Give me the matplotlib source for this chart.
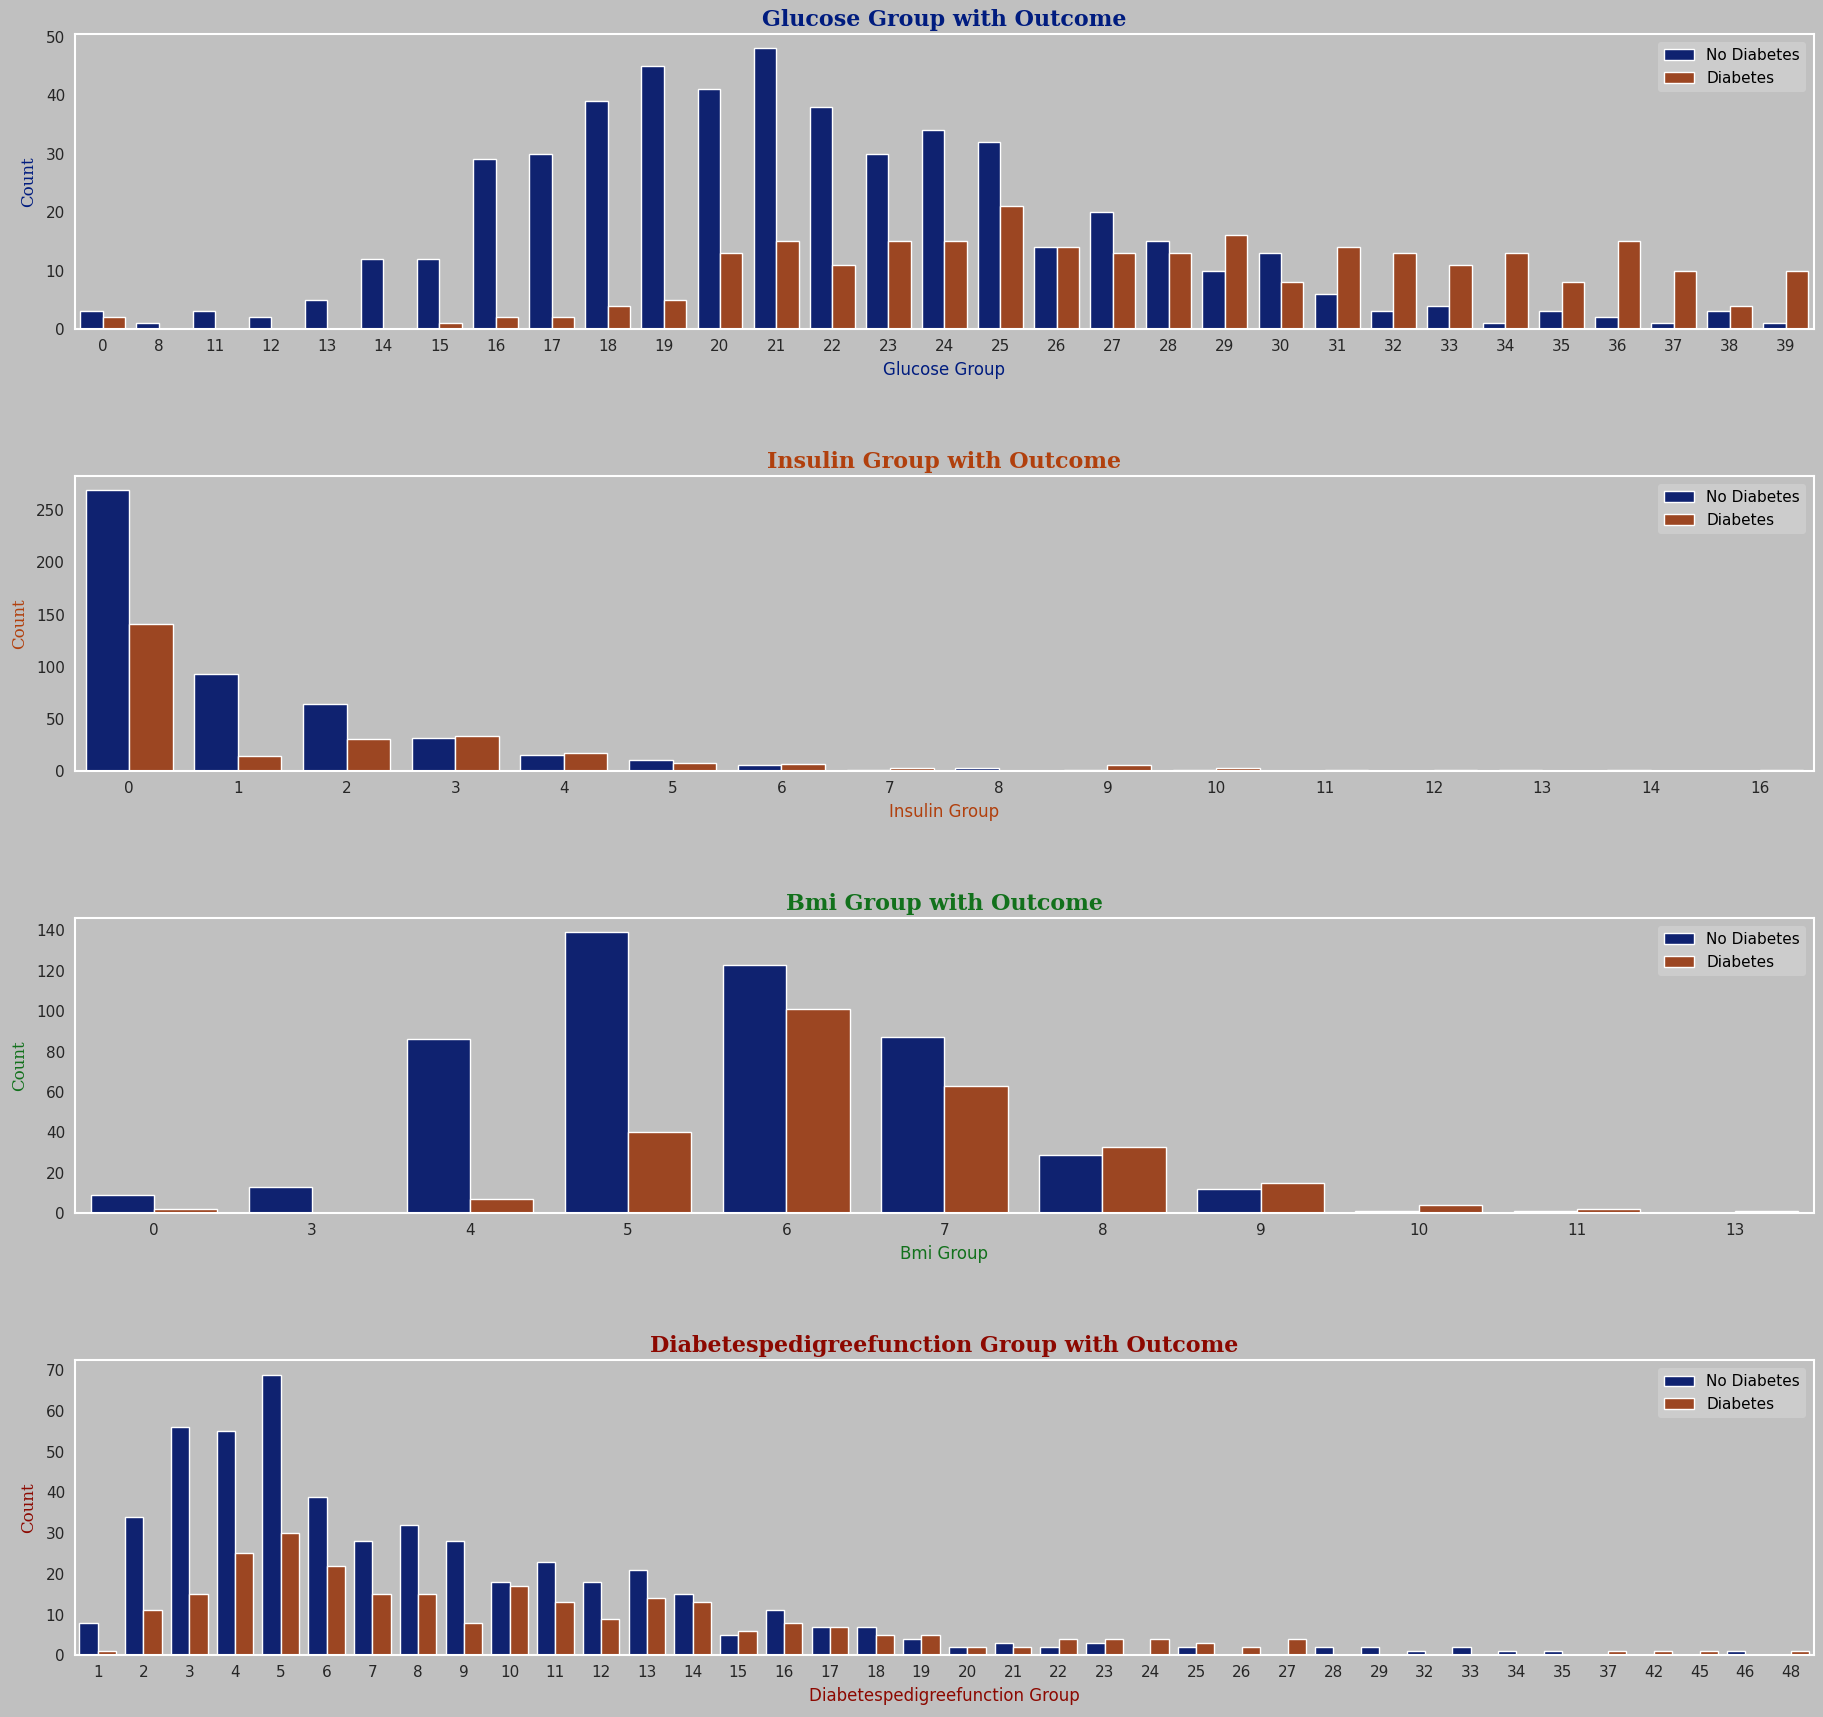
import numpy as np
import matplotlib.pyplot as plt

# category labels per feature
glucose_groups = ['0', '8', '11', '12', '13', '14', '15', '16', '17', '18', '19', '20', '21', '22', '23',
                  '24', '25', '26', '27', '28', '29', '30', '31', '32', '33', '34', '35', '36', '37', '38', '39']
glucose_no = [3, 1, 3, 2, 5, 12, 12, 29, 30, 39, 45, 41, 48, 38, 30,
              34, 32, 14, 20, 15, 10, 13, 6, 3, 4, 1, 3, 2, 1, 3, 1]
glucose_yes = [2, 0, 0, 0, 0, 0, 1, 2, 2, 4, 5, 13, 15, 11, 15,
               15, 21, 14, 13, 13, 16, 8, 14, 13, 11, 13, 8, 15, 10, 4, 10]

insulin_groups = ['0', '1', '2', '3', '4', '5', '6', '7', '8', '9', '10', '11', '12', '13', '14', '16']
insulin_no = [269, 93, 64, 32, 15, 11, 6, 1, 3, 1, 1, 0, 0, 1, 1, 0]
insulin_yes = [141, 14, 31, 34, 17, 8, 7, 3, 0, 6, 3, 1, 1, 0, 0, 1]

bmi_groups = ['0', '3', '4', '5', '6', '7', '8', '9', '10', '11', '13']
bmi_no = [9, 13, 86, 139, 123, 87, 29, 12, 1, 1, 0]
bmi_yes = [2, 0, 7, 40, 101, 63, 33, 15, 4, 2, 1]

dpf_groups = ['1', '2', '3', '4', '5', '6', '7', '8', '9', '10', '11', '12', '13', '14', '15', '16', '17',
              '18', '19', '20', '21', '22', '23', '24', '25', '26', '27', '28', '29', '32', '33', '34',
              '35', '37', '42', '45', '46', '48']
dpf_no = [8, 34, 56, 55, 69, 39, 28, 32, 28, 18, 23, 18, 21, 15, 5, 11, 7,
          7, 4, 2, 3, 2, 3, 0, 2, 0, 0, 2, 2, 1, 2, 1,
          1, 0, 0, 0, 1, 0]
dpf_yes = [1, 11, 15, 25, 30, 22, 15, 15, 8, 17, 13, 9, 14, 13, 6, 8, 7,
           5, 5, 2, 2, 4, 4, 4, 3, 2, 4, 0, 0, 0, 0, 0,
           0, 1, 1, 1, 0, 1]

panels = [
    ('Glucose', glucose_groups, glucose_no, glucose_yes, '#001c7f'),
    ('Insulin', insulin_groups, insulin_no, insulin_yes, '#b1400d'),
    ('Bmi', bmi_groups, bmi_no, bmi_yes, '#12711c'),
    ('Diabetespedigreefunction', dpf_groups, dpf_no, dpf_yes, '#8c0800'),
]

bg = '#c0c0c0'
col_no = '#0f2270'
col_yes = '#9c4622'

fig, axes = plt.subplots(4, 1, figsize=(18.24, 17.17), dpi=100, facecolor=bg)
fig.subplots_adjust(left=0.041, right=0.9945, top=0.980, bottom=0.036, hspace=0.5)

for ax, (name, groups, no, yes, c) in zip(axes, panels):
    x = np.arange(len(groups))
    ax.set_facecolor(bg)
    ax.bar(x - 0.2, no, width=0.4, color=col_no, edgecolor='white', linewidth=1, label='No Diabetes')
    ax.bar(x + 0.2, yes, width=0.4, color=col_yes, edgecolor='white', linewidth=1, label='Diabetes')
    ax.set_xlim(-0.5, len(groups) - 0.5)
    ax.set_xticks(x)
    ax.set_xticklabels(groups)
    ax.tick_params(axis='both', length=0, labelsize=11, labelcolor='#262626', pad=7)
    for s in ax.spines.values():
        s.set_color('white')
        s.set_linewidth(1.5)
    ax.set_title(f'{name} Group with Outcome', fontsize=16, fontweight='bold',
                 family='DejaVu Serif', color=c, pad=6)
    ax.set_xlabel(f'{name} Group', fontsize=12, color=c, labelpad=5)
    ax.set_ylabel('Count', fontsize=12, color=c, family='DejaVu Serif', labelpad=6)
    ax.legend(loc='upper right', fontsize=11, facecolor='#cccccc', framealpha=1,
              edgecolor='none')

plt.savefig('out.png', facecolor=bg)
